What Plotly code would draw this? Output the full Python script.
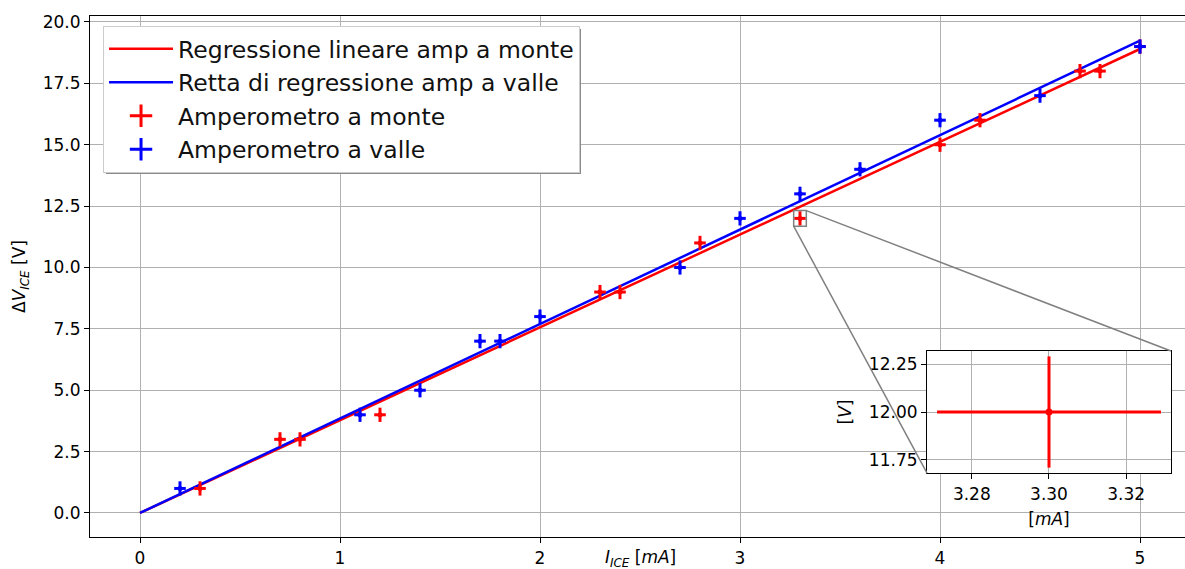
import plotly.graph_objects as go

# Misure: amperometro a monte
i_monte = [0.3, 0.7, 0.8, 1.2, 2.3, 2.4, 2.8, 3.3, 4.0, 4.2, 4.7, 4.8, 5.0]
v_monte = [1, 3, 3, 4, 9, 9, 11, 12, 15, 16, 18, 18, 19]
# Misure: amperometro a valle
i_valle = [0.2, 1.1, 1.4, 1.7, 1.8, 2.0, 2.7, 3.0, 3.3, 3.6, 4.0, 4.5, 5.0]
v_valle = [1, 4, 5, 7, 7, 8, 10, 12, 13, 14, 16, 17, 19]
# Incertezze
err_i = 0.029
err_v = 0.29
# Rette di regressione (estremi)
fit_i = [0, 5]
fit_monte = [0, 18.9]
fit_valle = [0, 19.24]

x_ticks = [0, 1, 2, 3, 4, 5]
y_ticks = [0.0, 2.5, 5.0, 7.5, 10.0, 12.5, 15.0, 17.5, 20.0]
inset_x_ticks = [3.28, 3.30, 3.32]
inset_y_ticks = [11.75, 12.00, 12.25]

RED = "#ff0000"
BLUE = "#0000ff"
FONT = "DejaVu Sans"
TICK_SIZE = 17

X_RANGE = [-0.25, 5.225]
Y_RANGE = [-0.978, 20.244]
ZX = [3.2684, 3.3316]
ZY = [11.682, 12.318]
INSET_XDOM = [0.7644, 0.9872]
INSET_YDOM = [0.1228, 0.357]

fig = go.Figure()

fig.add_trace(go.Scatter(x=fit_i, y=fit_monte, mode="lines", line=dict(color=RED, width=2.5),
                         name="Regressione lineare amp a monte", legendgroup="a"))
fig.add_trace(go.Scatter(x=fit_i, y=fit_valle, mode="lines", line=dict(color=BLUE, width=2.5),
                         name="Retta di regressione amp a valle", legendgroup="b"))


def err_points(xs, ys, color, xa="x", ya="y", size=5):
    return go.Scatter(
        x=xs, y=ys, mode="markers", xaxis=xa, yaxis=ya, showlegend=False,
        marker=dict(color=color, size=size),
        error_x=dict(type="constant", value=err_i, color=color, thickness=3, width=0),
        error_y=dict(type="constant", value=err_v, color=color, thickness=3, width=0),
    )


fig.add_trace(err_points(i_monte, v_monte, RED))
fig.add_trace(err_points(i_valle, v_valle, BLUE))

# voci di legenda per le misure
for name, color, grp in [("Amperometro a monte", RED, "c"), ("Amperometro a valle", BLUE, "d")]:
    fig.add_trace(go.Scatter(x=[None], y=[None], mode="markers", name=name, legendgroup=grp,
                             marker=dict(symbol="cross-thin", size=16, color=color,
                                         line=dict(color=color, width=3))))

# ingrandimento
fig.add_trace(err_points(i_monte, v_monte, RED, "x2", "y2", size=7))

axis_common = dict(
    showline=True, linecolor="black", linewidth=1.2,
    ticks="outside", ticklen=5, tickwidth=1.2, tickcolor="black",
    showgrid=True, gridcolor="#b0b0b0", gridwidth=1.3,
    zeroline=False, tickfont=dict(family=FONT, size=TICK_SIZE, color="black"),
)

fig.update_layout(
    width=1185, height=569,
    margin=dict(l=90, r=0, t=16, b=32),
    paper_bgcolor="white", plot_bgcolor="white",
    font=dict(family=FONT, color="black"),
    xaxis=dict(axis_common, range=X_RANGE, tickvals=x_ticks, ticktext=[str(t) for t in x_ticks],
               mirror=True, automargin=False),
    yaxis=dict(axis_common, range=Y_RANGE, tickvals=y_ticks, ticktext=[f"{t:.1f}" for t in y_ticks],
               automargin=False,
               title=dict(text="Δ<i>V</i><sub><i>ICE</i></sub> [V]",
                          font=dict(family=FONT, size=17), standoff=12)),
    xaxis2=dict(axis_common, domain=INSET_XDOM, anchor="y2", range=ZX, mirror=True,
                tickvals=inset_x_ticks, ticktext=[f"{t:.2f}" for t in inset_x_ticks],
                automargin=False,
                title=dict(text="[<i>mA</i>]", font=dict(family=FONT, size=17), standoff=10)),
    yaxis2=dict(axis_common, domain=INSET_YDOM, anchor="x2", range=ZY, mirror=True,
                tickvals=inset_y_ticks, ticktext=[f"{t:.2f}" for t in inset_y_ticks],
                automargin=False,
                title=dict(text="[<i>V</i>]", font=dict(family=FONT, size=17), standoff=12)),
    legend=dict(x=0.0119, y=0.981, xanchor="left", yanchor="top",
                bgcolor="white", bordercolor="#cccccc", borderwidth=1,
                font=dict(family=FONT, size=23.5, color="#111111"),
                tracegroupgap=0, itemwidth=64),
    showlegend=True,
)

# titolo dell'asse x, sotto le etichette
fig.add_annotation(text="<i>I</i><sub><i>ICE</i></sub> [<i>mA</i>]", xref="paper", yref="paper",
                   x=0.503, y=-0.041, xanchor="center", yanchor="middle", showarrow=False,
                   font=dict(family=FONT, size=17, color="black"))

# riquadro della zona ingrandita e linee di collegamento
def paper_to_data(px, py):
    return (X_RANGE[0] + px * (X_RANGE[1] - X_RANGE[0]),
            Y_RANGE[0] + py * (Y_RANGE[1] - Y_RANGE[0]))

tr = paper_to_data(INSET_XDOM[1], INSET_YDOM[1])
bl = paper_to_data(INSET_XDOM[0], INSET_YDOM[0])
gray = dict(color="#808080", width=1.5)
fig.add_shape(type="rect", xref="x", yref="y", x0=ZX[0], x1=ZX[1], y0=ZY[0], y1=ZY[1],
              line=gray, layer="above")
fig.add_shape(type="line", xref="x", yref="y", x0=ZX[1], y0=ZY[1], x1=tr[0], y1=tr[1],
              line=gray, layer="above")
fig.add_shape(type="line", xref="x", yref="y", x0=ZX[0], y0=ZY[0], x1=bl[0], y1=bl[1],
              line=gray, layer="above")

# ombra della legenda
fig.add_shape(type="rect", xref="paper", yref="paper", x0=0.0146, x1=0.4484, y0=0.6967, y1=0.9750,
              fillcolor="#8a8a8a", line=dict(width=0), layer="above")

fig.write_html("out.html")
